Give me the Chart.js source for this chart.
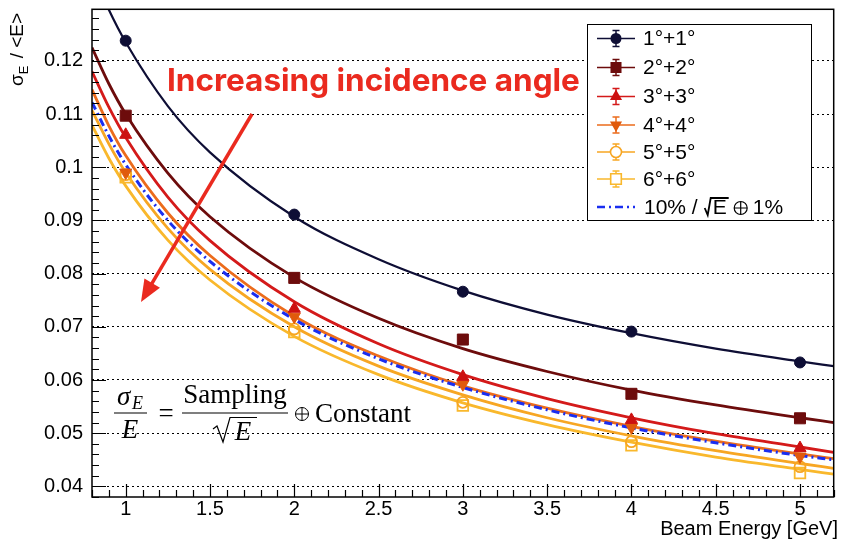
<!DOCTYPE html>
<html>
<head>
<meta charset="utf-8">
<script src="https://cdn.jsdelivr.net/npm/chart.js@4.4.0/dist/chart.umd.min.js"></script>
<style>
  html, body { margin: 0; padding: 0; background: #fff; }
</style>
</head>
<body>
<canvas id="resolution__chart-canvas" width="843" height="543"></canvas>
<script>
// beam energies of the measured points [GeV]
const energies = [1, 2, 3, 4, 5];

// measured sigma_E / <E> for each incidence angle
const res1 = [0.1238, 0.0911, 0.0766, 0.0691, 0.0633];
const res2 = [0.1097, 0.0792, 0.0676, 0.0574, 0.0528];
const res3 = [0.1061, 0.0734, 0.0606, 0.0525, 0.0472];
const res4 = [0.0990, 0.0719, 0.0592, 0.0511, 0.0456];
const res5 = [0.0986, 0.0696, 0.0558, 0.0484, 0.0437];
const res6 = [0.0981, 0.0690, 0.0552, 0.0477, 0.0425];

// fitted resolution curves, sampled along the energy axis
const fitEnergies = [0.8, 0.9, 1, 1.25, 1.5, 2, 2.5, 3, 3.5, 4, 4.5, 5, 5.2];
const fit1 = [0.1369, 0.1296, 0.1235, 0.1115, 0.1028, 0.0907, 0.0827, 0.0768, 0.0723, 0.0688, 0.0659, 0.0635, 0.0626];
const fit2 = [0.1225, 0.1157, 0.1100, 0.0989, 0.0907, 0.0793, 0.0716, 0.0659, 0.0616, 0.0581, 0.0553, 0.0529, 0.0520];
const fit3 = [0.1180, 0.1113, 0.1056, 0.0944, 0.0862, 0.0747, 0.0668, 0.0610, 0.0565, 0.0529, 0.0499, 0.0474, 0.0464];
const fit4 = [0.1146, 0.1078, 0.1022, 0.0914, 0.0834, 0.0720, 0.0645, 0.0589, 0.0547, 0.0513, 0.0485, 0.0461, 0.0452];
const fit5 = [0.1107, 0.1044, 0.0990, 0.0885, 0.0808, 0.0700, 0.0626, 0.0572, 0.0529, 0.0495, 0.0467, 0.0443, 0.0434];
const fit6 = [0.1079, 0.1017, 0.0965, 0.0863, 0.0788, 0.0682, 0.0610, 0.0557, 0.0516, 0.0483, 0.0455, 0.0432, 0.0423];
// reference: 10%/sqrt(E) (+) 1%
const refCurve = [0.1122, 0.1059, 0.1005, 0.0900, 0.0823, 0.0714, 0.0640, 0.0586, 0.0544, 0.0510, 0.0482, 0.0458, 0.0450];

const angleLabels = ['1°+1°', '2°+2°', '3°+3°', '4°+4°', '5°+5°', '6°+6°'];
const xTicks = [1, 1.5, 2, 2.5, 3, 3.5, 4, 4.5, 5];
const yTicks = [0.04, 0.05, 0.06, 0.07, 0.08, 0.09, 0.1, 0.11, 0.12];

const SANS = '"Liberation Sans", Arial, Helvetica, sans-serif';
const SERIF = '"Liberation Serif", "Times New Roman", serif';
const RED = '#ea2a1f';

const lineColors = ['#0e0e35', '#6d0c0c', '#d41a1a', '#ec6c1c', '#f7a623', '#f9b82c'];
const markColors = ['#0e0e35', '#6d0c0c', '#cc1111', '#e05a0c', '#f7a623', '#f9b82c'];
const markers = [
    { style: 'circle', radius: 5.5, rotation: 0, filled: true },
    { style: 'rect', radius: 7.8, rotation: 0, filled: true },
    { style: 'triangle', radius: 7, rotation: 0, filled: true },
    { style: 'triangle', radius: 7, rotation: 180, filled: true },
    { style: 'circle', radius: 5.5, rotation: 0, filled: false },
    { style: 'rect', radius: 7.5, rotation: 0, filled: false },
];

const toPoints = (xs, ys) => xs.map((x, i) => ({ x: x, y: ys[i] }));

const measured = [res1, res2, res3, res4, res5, res6];
const fits = [fit1, fit2, fit3, fit4, fit5, fit6];

let datasets = [];
measured.forEach((res, i) => {
    const m = markers[i];
    datasets.push({
        label: angleLabels[i],
        data: toPoints(energies, res),
        showLine: false,
        pointStyle: m.style,
        pointRadius: m.radius,
        pointRotation: m.rotation,
        pointBackgroundColor: m.filled ? markColors[i] : 'rgba(0,0,0,0)',
        pointBorderColor: markColors[i],
        pointBorderWidth: m.filled ? 1 : 1.8,
        order: 0,
    });
});
fits.forEach((fit, i) => {
    datasets.push({
        label: angleLabels[i] + ' fit',
        data: toPoints(fitEnergies, fit),
        borderColor: lineColors[i],
        borderWidth: i == 0 ? 2.2 : 2.8,
        pointRadius: 0,
        cubicInterpolationMode: 'monotone',
        order: 2,
    });
});
datasets.push({
    label: '10% / sqrt(E) + 1%',
    data: toPoints(fitEnergies, refCurve),
    borderColor: '#1a2ef0',
    borderWidth: 3,
    borderDash: [8, 4, 2, 4],
    pointRadius: 0,
    cubicInterpolationMode: 'monotone',
    order: 1,
});

function markerPath(ctx, m, x, y) {
    ctx.beginPath();
    if (m.style == 'circle') {
        ctx.arc(x, y, m.radius, 0, Math.PI * 2);
    } else if (m.style == 'rect') {
        const s = m.radius * Math.SQRT1_2;
        ctx.rect(x - s, y - s, 2 * s, 2 * s);
    } else {
        const dir = m.rotation ? -1 : 1;
        const r = m.radius;
        ctx.moveTo(x, y - dir * r);
        ctx.lineTo(x + r * 0.866, y + dir * r * 0.5);
        ctx.lineTo(x - r * 0.866, y + dir * r * 0.5);
        ctx.closePath();
    }
}

function oplus(ctx, x, y, r) {
    ctx.beginPath();
    ctx.arc(x, y, r, 0, Math.PI * 2);
    ctx.moveTo(x - r, y); ctx.lineTo(x + r, y);
    ctx.moveTo(x, y - r); ctx.lineTo(x, y + r);
    ctx.stroke();
}

// frame with inward ticks, ROOT style
const framePlugin = {
    id: 'frame',
    afterDatasetsDraw(chart) {
        const ctx = chart.ctx, a = chart.chartArea;
        const xs = chart.scales.x, ys = chart.scales.y;
        ctx.save();
        ctx.strokeStyle = '#000';
        ctx.lineWidth = 1.2;
        ctx.beginPath();
        for (let k = 8; k <= 52; k++) {
            const px = Math.round(xs.getPixelForValue(k / 10)) + 0.5;
            const len = k % 5 == 0 ? 13 : 7;
            ctx.moveTo(px, a.bottom);
            ctx.lineTo(px, a.bottom - len);
        }
        for (let k = 19; k <= 64; k++) {
            const py = Math.round(ys.getPixelForValue(k * 0.002)) + 0.5;
            const len = k % 5 == 0 ? 14 : 7;
            ctx.moveTo(a.left, py);
            ctx.lineTo(a.left + len, py);
        }
        ctx.stroke();
        ctx.lineWidth = 1.5;
        ctx.strokeRect(a.left, a.top, a.right - a.left, a.bottom - a.top);
        ctx.restore();
    },
    afterDraw(chart) {
        const ctx = chart.ctx;
        ctx.save();

        // axis titles
        ctx.fillStyle = '#000';
        ctx.font = '20px ' + SANS;
        ctx.textAlign = 'right';
        ctx.textBaseline = 'alphabetic';
        ctx.fillText('Beam Energy [GeV]', 838, 535);

        ctx.save();
        ctx.translate(23, 86);
        ctx.rotate(-Math.PI / 2);
        ctx.textAlign = 'left';
        ctx.font = '19px ' + SANS;
        ctx.fillText('σ', 0, 0);
        let w = ctx.measureText('σ').width;
        ctx.font = '13px ' + SANS;
        ctx.fillText('E', w, 5);
        w += ctx.measureText('E').width + 2;
        ctx.font = '19px ' + SANS;
        ctx.fillText(' / <E>', w, 0);
        ctx.restore();

        // legend box
        ctx.fillStyle = '#fff';
        ctx.fillRect(588, 25, 223, 196);
        ctx.strokeStyle = '#000';
        ctx.lineWidth = 1;
        ctx.strokeRect(587.5, 24.5, 224, 196);
        const rowY = [38.5, 67.5, 96.5, 125, 152, 179, 207];
        ctx.font = '21px ' + SANS;
        ctx.textAlign = 'left';
        ctx.textBaseline = 'middle';
        angleLabels.forEach((lab, i) => {
            const y = rowY[i];
            ctx.strokeStyle = lineColors[i];
            ctx.lineWidth = 1.5;
            ctx.beginPath();
            ctx.moveTo(597, y); ctx.lineTo(635, y);
            ctx.moveTo(616, y - 8); ctx.lineTo(616, y + 8);
            ctx.moveTo(612.5, y - 8); ctx.lineTo(619.5, y - 8);
            ctx.moveTo(612.5, y + 8); ctx.lineTo(619.5, y + 8);
            ctx.stroke();
            const m = markers[i];
            markerPath(ctx, m, 616, y);
            if (m.filled) {
                ctx.fillStyle = markColors[i];
                ctx.fill();
            } else {
                ctx.fillStyle = '#fff';
                ctx.fill();
                ctx.strokeStyle = markColors[i];
                ctx.lineWidth = 1.6;
                ctx.stroke();
            }
            ctx.fillStyle = '#000';
            ctx.fillText(lab, 643, y + 1);
        });
        // reference line entry
        let y = rowY[6];
        ctx.strokeStyle = '#1a2ef0';
        ctx.lineWidth = 2.5;
        ctx.setLineDash([8, 4, 2, 4]);
        ctx.beginPath();
        ctx.moveTo(597, y); ctx.lineTo(635, y);
        ctx.stroke();
        ctx.setLineDash([]);
        ctx.fillStyle = '#000';
        let x = 644;
        ctx.fillText('10% /', x, y + 1);
        x += ctx.measureText('10% /').width + 7;
        ctx.strokeStyle = '#000';
        ctx.lineWidth = 1.8;
        ctx.beginPath();
        ctx.moveTo(x, y + 1);
        ctx.lineTo(x + 3, y + 8);
        ctx.lineTo(x + 6, y - 9);
        ctx.lineTo(x + 24, y - 9);
        ctx.stroke();
        ctx.fillText('E', x + 8, y + 1);
        x += 30;
        ctx.lineWidth = 1.2;
        oplus(ctx, x + 6, y + 1, 6.5);
        x += 18;
        ctx.fillText('1%', x, y + 1);

        // resolution formula
        ctx.fillStyle = '#000';
        ctx.strokeStyle = '#000';
        ctx.textBaseline = 'alphabetic';
        ctx.font = 'italic 27px ' + SERIF;
        ctx.textAlign = 'left';
        ctx.fillText('σ', 117, 405);
        ctx.font = 'italic 18px ' + SERIF;
        ctx.fillText('E', 132, 409);
        ctx.font = 'italic 27px ' + SERIF;
        ctx.textAlign = 'center';
        ctx.fillText('E', 130, 438);
        ctx.lineWidth = 1.2;
        ctx.beginPath();
        ctx.moveTo(114, 413); ctx.lineTo(147, 413);
        ctx.moveTo(182, 413); ctx.lineTo(288, 413);
        ctx.stroke();
        ctx.font = '27px ' + SERIF;
        ctx.fillText('=', 166, 422);
        ctx.fillText('Sampling', 235, 403);
        ctx.beginPath();
        ctx.moveTo(213, 429);
        ctx.lineTo(217, 426);
        ctx.lineTo(223, 442);
        ctx.lineTo(230, 417.5);
        ctx.lineTo(257, 417.5);
        ctx.stroke();
        ctx.font = 'italic 27px ' + SERIF;
        ctx.fillText('E', 243, 440);
        ctx.lineWidth = 1;
        oplus(ctx, 302, 414, 6.5);
        ctx.font = '27px ' + SERIF;
        ctx.textAlign = 'left';
        ctx.fillText('Constant', 315, 422);

        // annotation
        const txt = 'Increasing incidence angle';
        ctx.font = 'bold 30px Inter, ' + SANS;
        const size = 30 * 413 / ctx.measureText(txt).width;
        ctx.font = 'bold ' + size.toFixed(1) + 'px Inter, ' + SANS;
        ctx.fillStyle = RED;
        ctx.fillText(txt, 167, 91);

        ctx.strokeStyle = RED;
        ctx.fillStyle = RED;
        ctx.lineWidth = 3.5;
        const x0 = 252, y0 = 114, x1 = 141, y1 = 302;
        const ang = Math.atan2(y1 - y0, x1 - x0);
        ctx.beginPath();
        ctx.moveTo(x0, y0);
        ctx.lineTo(x1 - 14 * Math.cos(ang), y1 - 14 * Math.sin(ang));
        ctx.stroke();
        ctx.beginPath();
        ctx.moveTo(x1, y1);
        ctx.lineTo(x1 - 22 * Math.cos(ang) + 9 * Math.sin(ang), y1 - 22 * Math.sin(ang) - 9 * Math.cos(ang));
        ctx.lineTo(x1 - 22 * Math.cos(ang) - 9 * Math.sin(ang), y1 - 22 * Math.sin(ang) + 9 * Math.cos(ang));
        ctx.closePath();
        ctx.fill();

        ctx.restore();
    }
};

let resolutionChart = new Chart(document.getElementById("resolution__chart-canvas").getContext("2d"), {
    type: 'line',
    data: { datasets: datasets },
    options: {
        responsive: false,
        animation: false,
        layout: { padding: { top: 3, right: 5, left: 0, bottom: 0 } },
        plugins: {
            legend: { display: false },
            tooltip: { enabled: false },
        },
        scales: {
            x: {
                type: 'linear',
                min: 0.8,
                max: 5.2,
                afterFit: s => { s.height = 46; s.paddingLeft = 0; s.paddingRight = 0; },
                afterBuildTicks: s => { s.ticks = xTicks.map(v => ({ value: v })); },
                ticks: {
                    color: '#000',
                    font: { family: SANS, size: 20 },
                    padding: 0,
                    maxRotation: 0,
                    autoSkip: false,
                    callback: v => String(v),
                },
                grid: { display: false, drawTicks: false },
                border: { display: false },
            },
            y: {
                type: 'linear',
                min: 0.038,
                max: 0.1297,
                afterFit: s => { s.width = 92; s.paddingTop = 0; s.paddingBottom = 0; },
                afterBuildTicks: s => { s.ticks = yTicks.map(v => ({ value: v })); },
                ticks: {
                    color: '#000',
                    font: { family: SANS, size: 20 },
                    padding: 9,
                    callback: v => String(+v.toFixed(2)),
                },
                grid: { color: '#000', lineWidth: 1, drawTicks: false },
                border: { display: false, dash: [2, 3] },
            },
        },
    },
    plugins: [framePlugin],
});
</script>
</body>
</html>
